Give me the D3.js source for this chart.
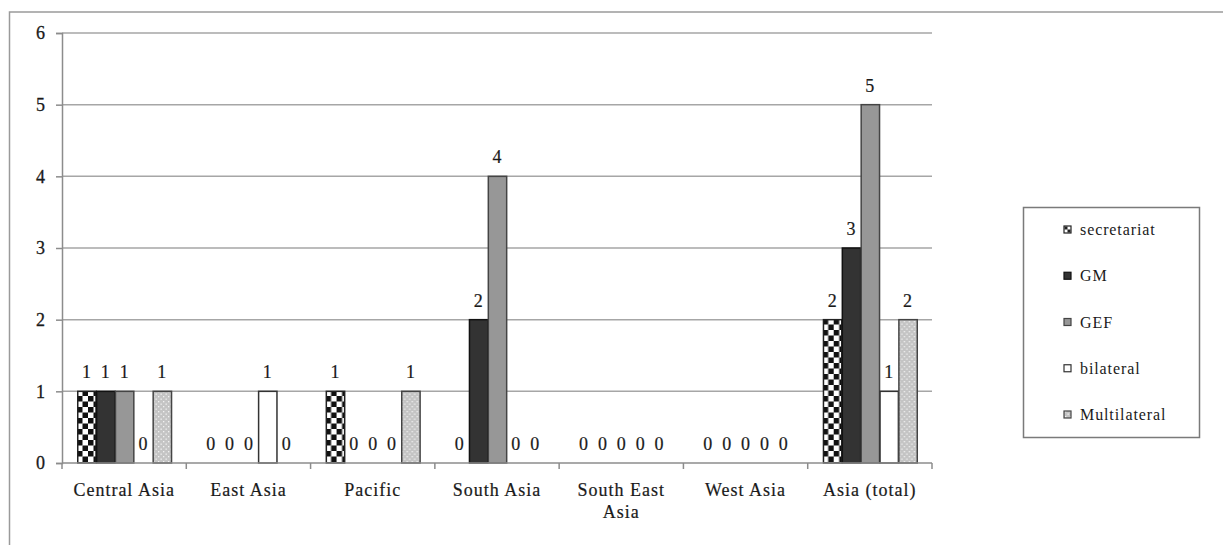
<!DOCTYPE html>
<html>
<head>
<meta charset="utf-8">
<script src="https://cdn.jsdelivr.net/npm/d3@7/dist/d3.min.js"></script>
<style>
  html, body { margin: 0; padding: 0; background: #fff; }
  svg { display: block; }
  text { font-family: "Liberation Serif", "Times New Roman", serif; fill: #1a1a1a; }
</style>
</head>
<body>
<svg id="chart" width="1223" height="545"></svg>
<script>
const categories = ["Central Asia", "East Asia", "Pacific", "South Asia", "South East Asia", "West Asia", "Asia (total)"];
const seriesNames = ["secretariat", "GM", "GEF", "bilateral", "Multilateral"];
const secretariat = [1, 0, 1, 0, 0, 0, 2];
const GM = [1, 0, 0, 2, 0, 0, 3];
const GEF = [1, 0, 0, 4, 0, 0, 5];
const bilateral = [0, 1, 0, 0, 0, 0, 1];
const Multilateral = [1, 0, 1, 0, 0, 0, 2];
const yTicks = [0, 1, 2, 3, 4, 5, 6];

const seriesValues = [secretariat, GM, GEF, bilateral, Multilateral];

(function () {
const svg = d3.select("#chart");
const defs = svg.append("defs");

// patterns
const chk = defs.append("pattern").attr("id", "pat-chk").attr("patternUnits", "userSpaceOnUse")
  .attr("width", 11).attr("height", 11);
chk.append("rect").attr("width", 11).attr("height", 11).attr("fill", "#fff");
chk.append("rect").attr("width", 5.5).attr("height", 5.5).attr("fill", "#111");
chk.append("rect").attr("x", 5.5).attr("y", 5.5).attr("width", 5.5).attr("height", 5.5).attr("fill", "#111");

const dot = defs.append("pattern").attr("id", "pat-dot").attr("patternUnits", "userSpaceOnUse")
  .attr("width", 5).attr("height", 5);
dot.append("rect").attr("width", 5).attr("height", 5).attr("fill", "#c4c4c4");
dot.append("rect").attr("x", 1).attr("y", 1).attr("width", 1.3).attr("height", 1.3).attr("fill", "#f2f2f2");
dot.append("rect").attr("x", 3.5).attr("y", 3.5).attr("width", 1.3).attr("height", 1.3).attr("fill", "#f2f2f2");

const styles = {
  secretariat: { fill: "url(#pat-chk)", stroke: "#222" },
  GM: { fill: "#333333", stroke: "#111" },
  GEF: { fill: "#979797", stroke: "#444" },
  bilateral: { fill: "#ffffff", stroke: "#333" },
  Multilateral: { fill: "url(#pat-dot)", stroke: "#444" }
};

// outer chart border
svg.append("path")
  .attr("d", "M1223,12 H9.5 V545")
  .attr("fill", "none").attr("stroke", "#9a9a9a").attr("stroke-width", 1.5);

const pLeft = 62, pRight = 932, pTop = 33, pBottom = 463;

const x0 = d3.scaleBand().domain(categories).range([pLeft, pRight]).paddingInner(0).paddingOuter(0);
const groupPad = 15;
const x1 = d3.scaleBand().domain(seriesNames)
  .range([0, x0.bandwidth() - 2 * groupPad]).padding(0);
const y = d3.scaleLinear().domain([0, 6]).range([pBottom, pTop]);

// gridlines
svg.append("g").selectAll("line").data(yTicks.filter(d => d > 0)).join("line")
  .attr("x1", pLeft).attr("x2", pRight)
  .attr("y1", d => y(d)).attr("y2", d => y(d))
  .attr("stroke", "#a6a6a6").attr("stroke-width", 1.5);

// y axis
const yAxis = d3.axisLeft(y).tickValues(yTicks).tickSize(6).tickPadding(11).tickFormat(d3.format("d"));
const gy = svg.append("g").attr("transform", `translate(${pLeft},0)`).call(yAxis);
gy.select(".domain").attr("stroke", "#8c8c8c").attr("stroke-width", 1.5);
gy.selectAll(".tick line").attr("stroke", "#8c8c8c").attr("stroke-width", 1.5);
gy.selectAll(".tick text").attr("font-size", 18).attr("font-family", "Liberation Serif, serif")
  .attr("fill", "#1a1a1a").attr("stroke", "#1a1a1a").attr("stroke-width", 0.3);

// bars
const groups = svg.append("g").selectAll("g").data(categories).join("g")
  .attr("transform", d => `translate(${x0(d) + groupPad},0)`);

const barData = (cat, ci) => seriesNames.map((s, si) => ({ s, v: seriesValues[si][ci] }));

groups.each(function (cat, ci) {
  const g = d3.select(this);
  const data = barData(cat, ci);
  g.selectAll("rect").data(data.filter(d => d.v > 0)).join("rect")
    .attr("x", d => x1(d.s) + 0.75)
    .attr("width", x1.bandwidth() - 0.5)
    .attr("y", d => y(d.v))
    .attr("height", d => y(0) - y(d.v))
    .attr("fill", d => styles[d.s].fill)
    .attr("stroke", d => styles[d.s].stroke)
    .attr("stroke-width", 1.5);
  g.selectAll("text").data(data).join("text")
    .attr("x", d => x1(d.s) + x1.bandwidth() / 2)
    .attr("y", d => y(d.v) - 13)
    .attr("text-anchor", "middle")
    .attr("font-size", 18)
    .attr("stroke", "#1a1a1a").attr("stroke-width", 0.2)
    .text(d => d.v);
});

// x axis
const gx = svg.append("g").attr("transform", `translate(0,${pBottom})`);
gx.append("line").attr("x1", pLeft).attr("x2", pRight).attr("y1", 0).attr("y2", 0)
  .attr("stroke", "#8c8c8c").attr("stroke-width", 1.5);
const bounds = categories.map(c => x0(c)).concat([pRight]);
gx.selectAll("line.tk").data(bounds).join("line").attr("class", "tk")
  .attr("x1", d => d).attr("x2", d => d).attr("y1", 0).attr("y2", 6)
  .attr("stroke", "#8c8c8c").attr("stroke-width", 1.5);

const xLabelLines = { "South East Asia": ["South East", "Asia"] };
gx.selectAll("text.xl").data(categories).join("text").attr("class", "xl")
  .attr("text-anchor", "middle")
  .attr("font-size", 18)
  .attr("letter-spacing", 1)
  .attr("stroke", "#1a1a1a").attr("stroke-width", 0.2)
  .each(function (d) {
    const lines = xLabelLines[d] || [d];
    const t = d3.select(this);
    lines.forEach((ln, i) => {
      t.append("tspan").attr("x", x0(d) + x0.bandwidth() / 2).attr("y", 33 + i * 22).text(ln);
    });
  });

// legend
const lg = svg.append("g");
lg.append("rect").attr("x", 1023.5).attr("y", 207.5).attr("width", 176).attr("height", 230)
  .attr("fill", "#fff").attr("stroke", "#7a7a7a").attr("stroke-width", 1.5);
const ly = d3.scalePoint().domain(seriesNames).range([230, 415]);
const li = lg.selectAll("g").data(seriesNames).join("g")
  .attr("transform", d => `translate(1064,${ly(d)})`);
li.append("rect").attr("x", 0).attr("y", -4).attr("width", 7).attr("height", 7)
  .attr("fill", d => d === "secretariat" ? "#fff" : styles[d].fill)
  .attr("stroke", d => styles[d].stroke).attr("stroke-width", 1.2);
li.filter(d => d === "secretariat").append("path")
  .attr("d", "M0.5,-3.5 h3 v3 h-3 z M3.5,-0.5 h3 v3 h-3 z").attr("fill", "#222");
li.append("text").attr("x", 16).attr("y", 5).attr("font-size", 16).attr("letter-spacing", 0.9)
  .text(d => d);
})();
</script>
</body>
</html>
